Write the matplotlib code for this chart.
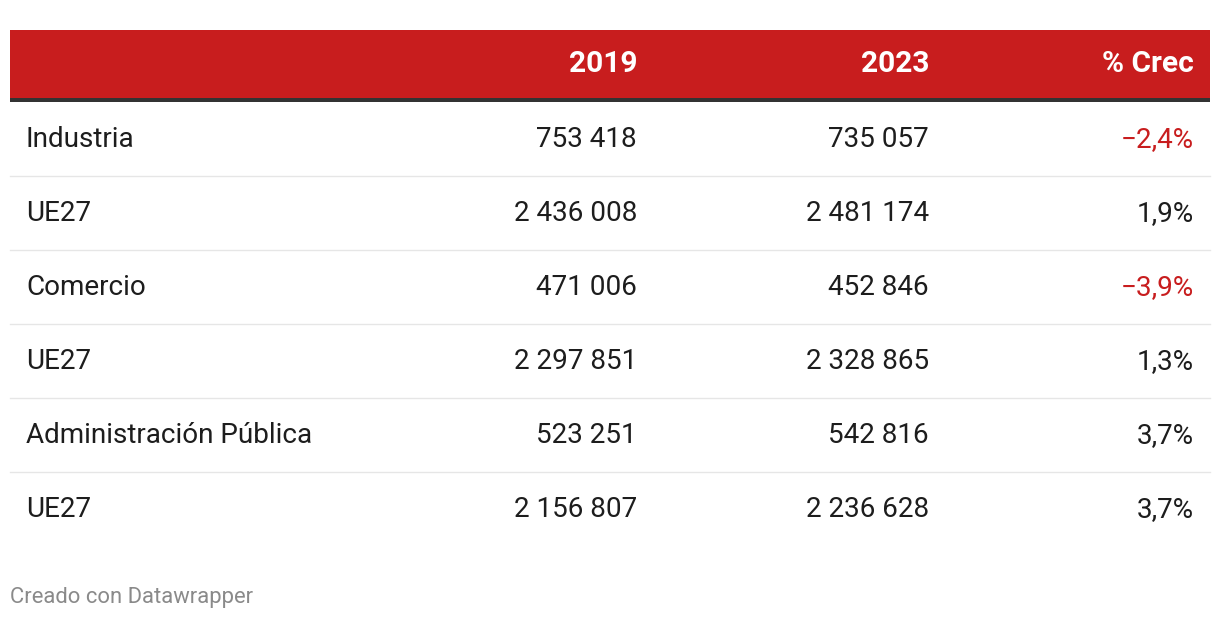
import matplotlib.pyplot as plt
from matplotlib.patches import Rectangle

plt.rcParams['font.family'] = ['Roboto', 'DejaVu Sans']

# table data
rows = ["Industria", "UE27", "Comercio", "UE27", "Administración Pública", "UE27"]
v2019 = [753418, 2436008, 471006, 2297851, 523251, 2156807]
v2023 = [735057, 2481174, 452846, 2328865, 542816, 2236628]
crec = [-2.4, 1.9, -3.9, 1.3, 3.7, 3.7]
headers = ["2019", "2023", "% Crec"]

red = "#c81d1e"
txt = "#1d1d1d"
fs = 20.1


def fmt_int(v):
    return f"{v:,}".replace(",", " ")


def fmt_pct(v):
    s = f"{abs(v):.1f}".replace(".", ",") + "%"
    return ("\u2212" + s) if v < 0 else s


fig = plt.figure(figsize=(12.2, 6.2), dpi=100)
ax = fig.add_axes([0, 0, 1, 1])
ax.set_xlim(0, 1220)
ax.set_ylim(620, 0)
ax.axis("off")

# header band
ax.add_patch(Rectangle((10, 30), 1200, 68, color=red, lw=0))
ax.add_patch(Rectangle((10, 98), 1200, 4, color="#333333", lw=0))
col_x = [637, 929, 1194]
for x, h in zip(col_x, headers):
    ax.text(x, 64, h, ha="right", va="center", color="white",
            fontsize=21.5, fontweight="bold")

row_h = 74
top = 102
for i, name in enumerate(rows):
    cy = top + row_h * i + 37.5
    ax.text(26, cy, name, ha="left", va="center", color=txt, fontsize=fs)
    ax.text(col_x[0], cy, fmt_int(v2019[i]), ha="right", va="center",
            color=txt, fontsize=fs)
    ax.text(col_x[1], cy, fmt_int(v2023[i]), ha="right", va="center",
            color=txt, fontsize=fs)
    ax.text(col_x[2], cy, fmt_pct(crec[i]), ha="right", va="center",
            color=red if crec[i] < 0 else txt, fontsize=fs)
    if i < len(rows) - 1:
        yl = top + row_h * (i + 1)
        ax.plot([10, 1210], [yl, yl], color="#e6e6e6", lw=1)

ax.text(10, 597, "Creado con Datawrapper", ha="left", va="center",
        color="#8a8a8a", fontsize=15.8)

fig.savefig("out.png", dpi=100)
